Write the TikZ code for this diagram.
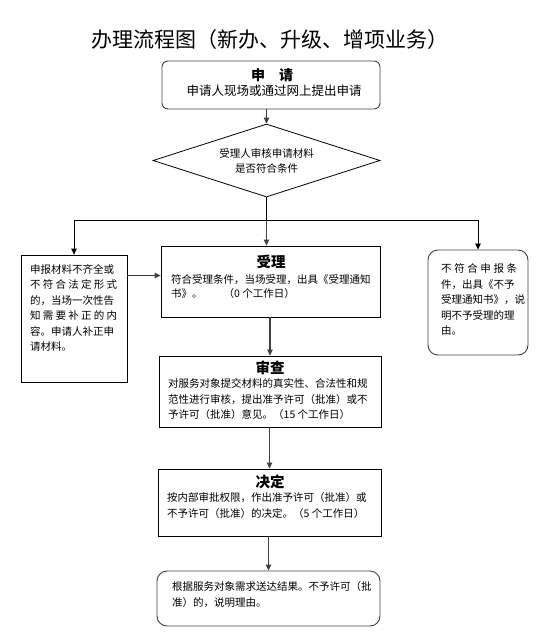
\documentclass[tikz,border=0pt]{standalone}
\usepackage{fontspec}
\setmainfont{Noto Sans CJK SC}
\usepackage{tikz}
\usetikzlibrary{arrows.meta}
\usetikzlibrary{shapes.geometric}

\tikzset{
  box/.style={draw=black, line width=0.8pt, inner sep=0pt},
  roundbox/.style={draw=black!75, line width=0.9pt, rounded corners=8pt, inner sep=0pt},
  txt/.style={inner sep=0pt, align=left, font=\fontsize{10.5}{15.5}\selectfont},
  head/.style={inner sep=0pt, font=\fontsize{14.5}{16}\selectfont\bfseries},
  link/.style={draw=black, line width=0.8pt},
  flow/.style={draw=black!75, line width=1.1pt, -{Triangle[length=6pt,width=5.5pt]}},
  branch/.style={draw=black, line width=0.8pt, -{Triangle[length=6pt,width=5.5pt]}}
}
\newcommand{\spreadline}[2]{\makebox[#1][s]{#2}}

\begin{document}
\begin{tikzpicture}[x=1pt,y=-1pt]
        \useasboundingbox (0,0) rectangle (550,633);
        \node[inner sep=0pt, font=\fontsize{21}{24}\selectfont] (title) at (270,40) {办理流程图（新办、升级、增项业务）};

        % application
        \node[roundbox, rounded corners=6pt, minimum width=218, minimum height=48] (apply) at (271,85) {};
        \node[head, font=\fontsize{14}{16}\selectfont\bfseries] (applyhead) at (272,75) {申\quad 请};
        \node[txt, font=\fontsize{12.5}{15}\selectfont] (applytext) at (274,91) {申请人现场或通过网上提出申请};

        % check
        \node[diamond, draw=black, line width=0.8pt, inner sep=0pt, minimum width=227, minimum height=73] (check) at (266.5,160.5) {};
        \node[txt, align=center, font=\fontsize{10.5}{15}\selectfont] (checktext) at (266.5,160.5) {受理人审核申请材料\\是否符合条件};

        % left box
        \node[box, minimum width=106, minimum height=127] (incomplete) at (74,318.5) {};
        \node[txt, anchor=west] (incompletetext) at (30,308) {申报材料不齐全或\\\spreadline{87pt}{不 符 合 法 定 形 式}\\的，当场一次性告\\\spreadline{87pt}{知 需 要 补 正 的 内}\\容。申请人补正申\\请材料。};

        % right box
        \node[roundbox, rounded corners=10pt, minimum width=100, minimum height=105] (reject) at (478,302.5) {};
        \node[txt, anchor=west] (rejecttext) at (441,299.5) {\spreadline{76pt}{不 符 合 申 报 条}\\件，出具《不予\\受理通知书》，说\\明不予受理的理\\由。};

        % acceptance
        \node[box, minimum width=219, minimum height=71] (accept) at (270.5,281.5) {};
        \node[head] (accepthead) at (271,262) {受理};
        \node[txt, anchor=west, font=\fontsize{10.5}{14}\selectfont] (accepttext) at (171,287) {符合受理条件，当场受理，出具《受理通知\\书》。\quad\quad （0 个工作日）};

        % review
        \node[box, minimum width=222, minimum height=71] (review) at (270,391.5) {};
        \node[head] (reviewhead) at (270,368) {审查};
        \node[txt, anchor=west] (reviewtext) at (168,399.5) {对服务对象提交材料的真实性、合法性和规\\范性进行审核，提出准予许可（批准）或不\\予许可（批准）意见。（15 个工作日）};

        % decision
        \node[box, minimum width=223, minimum height=67] (decide) at (269.5,502.5) {};
        \node[head] (decidehead) at (270,482) {决定};
        \node[txt, anchor=west, font=\fontsize{10.5}{16}\selectfont] (decidetext) at (167,506) {按内部审批权限，作出准予许可（批准）或\\不予许可（批准）的决定。（5 个工作日）};

        % delivery
        \node[roundbox, rounded corners=10pt, minimum width=223, minimum height=55] (deliver) at (268.5,598.5) {};
        \node[txt, anchor=west, font=\fontsize{10.5}{16}\selectfont] (delivertext) at (172,595) {根据服务对象需求送达结果。不予许可（批\\准）的，说明理由。};

        % connectors
        \coordinate (split) at (266.5,220);
        \draw[flow] (apply.south -| check.north) -- (check.north);
        \draw[link] (check.south) -- (split);
        \draw[flow] (split) -- (split |- accept.north);
        \draw[branch] (split) -| (incomplete.north);
        \draw[branch] (split) -| (reject.north);
        \draw[flow] ([yshift=6pt]incomplete.east |- accept.west) -- ([yshift=6pt]accept.west);
        \draw[flow] (accept.south -| review.north) -- (review.north);
        \draw[flow] (review.south -| decide.north) -- (decide.north);
        \draw[flow] (decide.south -| deliver.north) -- (deliver.north);
    \end{tikzpicture}
\end{document}
